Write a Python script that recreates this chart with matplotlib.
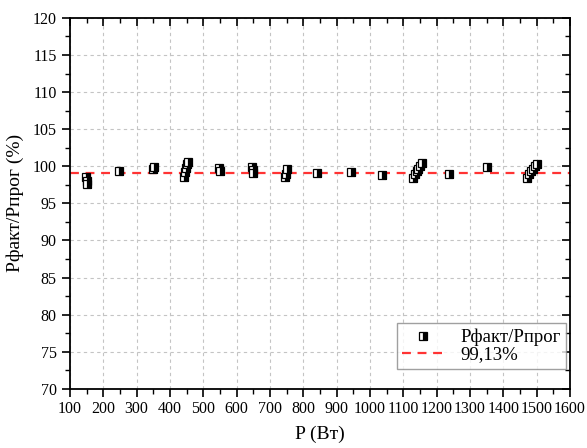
import matplotlib
matplotlib.use("Agg")
import matplotlib.pyplot as plt
from matplotlib.ticker import MultipleLocator

power = [148, 152, 150,
         248,
         350, 352,
         443, 446, 449, 452, 455,
         547, 549,
         647, 648, 650,
         745, 748, 752,
         842,
         942,
         1037,
         1130, 1135, 1140, 1145, 1150, 1155,
         1237,
         1350,
         1470, 1476, 1482, 1488, 1494, 1500]
ratio = [98.5, 98.0, 97.6,
         99.4,
         99.7, 99.9,
         98.5, 99.2, 99.8, 100.3, 100.6,
         99.8, 99.3,
         99.9, 99.5, 99.1,
         98.5, 99.0, 99.6,
         99.1,
         99.2,
         98.8,
         98.4, 98.9, 99.3, 99.7, 100.1, 100.4,
         98.9,
         99.9,
         98.4, 98.9, 99.3, 99.7, 100.0, 100.3]
mean_value = 99.13
series_label = "Рфакт/Рпрог"
mean_label = "99,13%"

plt.rcParams['font.family'] = ['Liberation Serif', 'DejaVu Serif']

fig = plt.figure(figsize=(5.87, 4.48), dpi=100)
ax = fig.add_axes([0.119, 0.132, 0.852, 0.828])

ax.plot(power, ratio, linestyle='none', marker='s', markersize=6,
        fillstyle='right', markerfacecolor='black', markerfacecoloralt='white',
        markeredgecolor='black', markeredgewidth=0.9, label=series_label)
ax.axhline(mean_value, color='#ff3333', linestyle=(0, (4, 3)), linewidth=1.6,
           label=mean_label, zorder=1)

ax.set_xlim(100, 1600)
ax.set_ylim(70, 120)
ax.xaxis.set_major_locator(MultipleLocator(100))
ax.xaxis.set_minor_locator(MultipleLocator(50))
ax.yaxis.set_major_locator(MultipleLocator(5))
ax.yaxis.set_minor_locator(MultipleLocator(2.5))

ax.grid(True, which='major', color='#c4c4c4', linestyle=(0, (3, 3)), linewidth=0.8)
ax.set_axisbelow(True)

for s in ax.spines.values():
    s.set_linewidth(1.3)

ax.tick_params(axis='both', which='major', direction='out', length=6, width=1.2,
               labelsize=11.5, top=True, right=True)
ax.tick_params(axis='both', which='minor', direction='out', length=3.5, width=1.0,
               top=True, right=True)
ax.tick_params(axis='x', which='major', pad=3)
# top and right ticks point inward
for t in ax.xaxis.get_major_ticks() + ax.xaxis.get_minor_ticks():
    t.tick2line.set_marker(matplotlib.lines.TICKDOWN)
for t in ax.yaxis.get_major_ticks() + ax.yaxis.get_minor_ticks():
    t.tick2line.set_marker(matplotlib.lines.TICKLEFT)

ax.set_xlabel("P (Вт)", fontsize=14, labelpad=6)
ax.set_ylabel("Рфакт/Рпрог (%)", fontsize=14, labelpad=6)

leg = ax.legend(loc='lower right', bbox_to_anchor=(0.993, 0.054), borderaxespad=0,
                fontsize=13.5, frameon=True, fancybox=False, edgecolor='#888888',
                handlelength=2.2, borderpad=0.3, labelspacing=0.0, handletextpad=0.9)
leg.get_frame().set_linewidth(1.0)

fig.savefig("out.png", dpi=100)
